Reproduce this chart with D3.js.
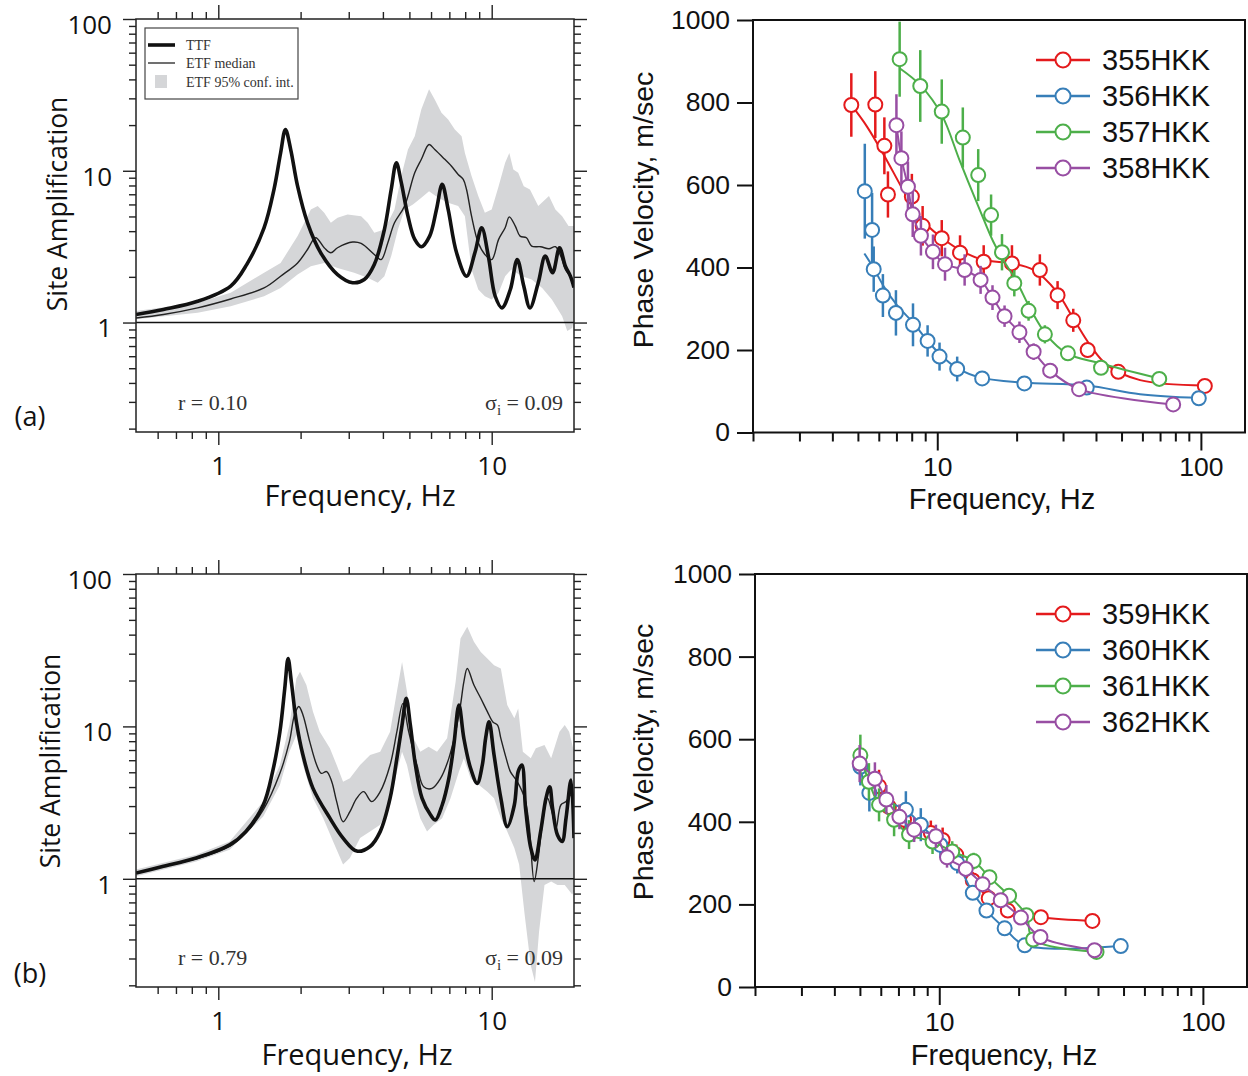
<!DOCTYPE html>
<html><head><meta charset="utf-8">
<script src="https://cdn.jsdelivr.net/npm/d3@7"></script>
<style>body{margin:0;background:#fff}</style>
</head><body><svg id="c" width="1248" height="1076"></svg>
<script>
// ---------- Panel (a): site amplification ----------
const ttfFreqA = [0.50,0.63,0.84,1.11,1.27,1.47,1.60,1.69,1.76,1.84,1.95,2.12,2.37,2.73,3.10,3.42,3.72,4.05,4.29,4.48,4.67,4.94,5.23,5.53,5.93,6.28,6.59,6.93,7.44,8.09,8.68,9.19,9.72,10.3,10.9,11.7,12.4,13.1,13.8,14.8,15.7,16.7,17.7,18.6,19.4,20.0];
const ttfAmpA  = [1.13,1.22,1.38,1.74,2.41,4.2,7.6,13.1,18.7,13.8,7.92,4.54,2.88,2.07,1.83,1.92,2.41,4.10,7.53,11.3,8.34,5.02,3.53,3.16,3.71,5.56,8.13,5.56,2.88,2.02,2.88,4.21,2.74,1.49,1.25,1.65,2.60,1.74,1.25,1.83,2.74,2.13,3.11,2.35,2.02,1.70];
const etfFreqA = [0.50,0.63,0.84,1.11,1.47,1.69,1.95,2.12,2.27,2.44,2.58,2.73,3.10,3.33,3.72,3.94,4.17,4.41,4.80,5.23,5.53,5.90,6.19,6.64,7.13,7.54,7.87,8.09,8.44,8.93,9.44,10.0,10.6,11.2,11.6,12.2,12.7,13.4,14.0,15.1,16.2,17.1,17.9,18.6,19.4,20.0];
const etfAmpA  = [1.07,1.13,1.25,1.43,1.69,2.02,2.47,3.03,3.62,3.11,2.88,3.11,3.39,3.32,2.81,2.60,3.36,4.54,5.85,9.70,11.9,14.9,13.8,12.2,10.7,9.46,8.77,7.53,5.02,3.35,2.81,2.60,3.53,4.21,4.97,4.32,3.71,3.62,3.19,3.16,3.06,3.16,2.74,2.24,2.02,1.83];
const bandUpFreqA = [0.50,0.84,1.11,1.47,1.69,1.95,2.18,2.31,2.44,2.58,2.73,2.97,3.33,3.52,3.72,4.05,4.41,4.67,4.94,5.23,5.53,5.90,6.19,6.55,6.93,7.33,7.76,7.98,8.44,8.93,9.44,10.0,10.6,11.2,11.6,12.0,12.5,13.1,13.8,14.8,16.2,17.1,18.1,19.1,20.0];
const bandUpAmpA  = [1.19,1.35,1.57,2.13,2.47,3.71,5.56,5.85,5.28,4.54,4.90,5.15,5.02,4.54,3.90,4.10,5.56,9.22,13.8,16.9,25.4,34.4,29.5,24.1,21.8,18.7,16.9,13.1,9.22,6.81,5.28,5.56,7.92,11.3,13.1,10.2,9.70,7.92,7.53,5.85,6.81,5.56,5.02,4.32,4.32];
const bandLoFreqA = [0.50,0.84,1.11,1.47,1.69,1.95,2.18,2.44,2.73,3.14,3.52,3.83,4.05,4.29,4.54,4.80,5.15,5.53,5.90,6.37,6.93,7.54,7.98,8.44,8.93,9.44,10.0,10.6,11.2,11.8,12.9,14.0,15.3,16.6,18.1,18.9,19.7,20.0];
const bandLoAmpA  = [1.05,1.16,1.28,1.49,1.69,2.07,2.35,2.47,2.29,2.13,1.97,1.83,2.02,2.74,4.10,5.56,6.00,6.64,7.34,6.64,6.15,5.85,5.02,2.24,1.65,1.49,1.42,1.57,2.02,2.24,2.02,1.92,1.69,1.42,1.10,0.88,0.92,1.05];

// ---------- Panel (b): site amplification ----------
const ttfFreqB = [0.50,0.62,0.83,1.10,1.26,1.46,1.58,1.68,1.75,1.80,1.85,1.93,2.04,2.22,2.56,2.86,3.21,3.59,3.91,4.25,4.50,4.70,4.87,5.04,5.26,5.56,5.97,6.22,6.59,6.97,7.27,7.59,7.91,8.37,8.85,9.24,9.50,9.78,10.2,10.8,11.4,12.1,12.5,12.9,13.3,13.9,14.4,15.1,15.8,16.3,16.7,17.4,18.1,18.7,19.5,20.0];
const ttfAmpB  = [1.09,1.20,1.37,1.67,2.04,3.05,5.05,9.23,17.7,27.9,19.6,10.7,6.49,3.92,2.50,1.85,1.52,1.63,2.04,3.38,6.17,10.2,15.3,10.2,5.58,3.38,2.63,2.43,3.05,4.56,7.55,13.8,8.35,5.31,4.23,5.58,8.35,10.7,6.49,3.38,2.20,3.05,5.05,5.58,2.90,1.59,1.33,2.04,3.38,4.02,2.90,1.94,1.76,2.50,4.45,1.85];
const etfFreqB = [0.50,0.62,0.83,1.10,1.26,1.46,1.68,1.82,1.90,1.97,2.04,2.16,2.29,2.38,2.49,2.60,2.71,2.86,3.03,3.21,3.40,3.64,3.91,4.25,4.50,4.73,4.97,5.33,5.64,6.05,6.50,6.97,7.38,7.69,7.91,8.14,8.61,9.12,9.64,10.1,10.5,10.8,11.3,11.7,12.4,13.2,13.7,14.3,14.8,15.3,16.0,16.6,17.2,17.9,18.7,19.4,20.0];
const etfAmpB  = [1.09,1.20,1.35,1.63,1.99,2.83,4.92,7.94,11.9,13.5,11.9,7.94,5.58,4.92,5.05,4.34,3.21,2.37,2.76,3.38,3.73,3.21,3.73,5.58,9.23,14.1,9.23,5.58,4.02,3.92,4.56,6.17,9.23,13.8,19.6,24.0,18.7,15.3,12.5,10.7,10.2,8.35,6.17,5.05,4.34,3.38,2.26,0.96,1.37,2.26,3.38,2.76,2.15,3.05,3.21,3.55,1.85];
const bandUpFreqB = [0.50,0.83,1.10,1.46,1.68,1.82,1.93,1.99,2.10,2.22,2.35,2.56,2.71,2.86,3.03,3.30,3.59,3.91,4.25,4.50,4.70,4.90,5.18,5.48,5.88,6.31,6.87,7.38,7.69,8.14,8.61,9.12,9.64,10.2,10.8,11.4,12.1,12.5,13.0,13.9,14.5,15.6,16.5,17.7,18.5,19.2,20.0];
const bandUpAmpB  = [1.15,1.44,1.76,3.21,5.58,10.2,20.6,22.8,18.7,12.5,9.23,7.18,5.58,4.34,4.56,5.58,6.49,6.82,9.23,16.9,26.5,16.9,8.35,6.82,7.36,6.82,8.35,19.6,37.7,45.0,35.9,30.8,27.9,25.2,24.0,13.8,11.3,13.1,6.82,6.17,7.18,7.55,6.17,9.23,10.2,9.23,6.82];
const bandLoFreqB = [0.50,0.83,1.10,1.46,1.68,1.82,1.93,2.04,2.22,2.42,2.63,2.86,3.03,3.30,3.59,3.91,4.25,4.50,4.70,4.90,5.18,5.48,5.80,6.14,6.59,7.07,7.59,7.91,8.37,8.98,9.64,10.2,10.8,11.4,12.1,12.6,13.2,13.9,14.4,14.9,15.6,16.5,17.4,18.5,19.7,20.0];
const bandLoAmpB  = [1.04,1.30,1.55,2.56,4.13,6.82,8.77,5.58,3.38,2.50,1.76,1.24,1.37,1.85,2.04,2.26,3.05,5.05,6.82,5.58,3.55,2.50,2.04,2.26,2.50,3.38,5.05,6.17,4.56,4.13,3.73,3.38,2.50,2.04,1.59,1.24,0.58,0.27,0.21,0.45,0.91,0.96,0.91,0.91,0.79,0.83];

// ---------- Phase velocity, top (355-358HKK) ----------
const f355 = [4.72,5.82,6.30,6.50,8.01,8.80,10.4,12.2,15.0,19.2,24.5,28.6,32.8,37.2,48.6,103.5];
const v355 = [794,795,695,577,572,501,471,436,414,410,394,333,272,200,147,113];
const e355 = [77,81,69,56,55,48,44,42,40,44,38,34,28,18,8,8];
const fit355F = [4.72,5.42,6.27,7.24,8.13,9.14,10.4,12.2,15.0,19.2,23.2,28.4,32.8,38.0,44.0,58.8,103.5];
const fit355V = [794,741,673,600,543,503,472,442,418,410,394,341,277,212,164,127,114];

const f356 = [5.31,5.66,5.74,6.22,6.97,8.09,9.19,10.2,11.9,14.8,21.4,36.9,98.2];
const v356 = [585,491,396,332,290,261,222,184,154,131,119,109,83];
const e356 = [115,90,55,52,55,52,38,34,30,18,18,14,5];
const fit356F = [5.29,5.74,6.27,7.03,8.13,9.14,10.3,11.9,14.6,21.2,36.9,58.8,97.7];
const fit356V = [434,398,354,309,265,224,188,156,133,121,114,93,84];

const f357 = [7.20,8.62,10.4,12.5,14.3,16.0,17.6,19.6,22.2,25.6,31.3,41.8,69.5];
const v357 = [905,840,778,715,624,527,437,362,295,238,192,157,130];
const e357 = [91,87,78,73,63,50,44,32,24,22,12,5,5];
const fit357F = [7.20,8.62,10.4,12.2,14.6,16.3,17.8,20.0,22.5,26.0,31.0,41.4,69.5];
const fit357V = [883,842,770,657,535,463,418,366,301,236,192,168,131];

const f358 = [7.00,7.31,7.74,8.07,8.67,9.63,10.7,12.7,14.6,16.2,18.0,20.5,23.2,26.8,34.5,78.5];
const v358 = [745,665,596,529,477,438,408,394,370,327,282,243,196,150,105,68];
const e358 = [75,65,61,55,48,42,40,38,34,30,26,26,20,18,14,5];

// ---------- Phase velocity, bottom (359-362HKK) ----------
const f359 = [5.91,6.44,7.35,9.29,10.3,11.6,13.4,15.4,18.2,24.3,38.1];
const v359 = [486,436,405,373,356,320,258,215,185,169,160];
const e359 = [40,35,35,30,30,25,20,15,10,5,5];
const f360 = [5.02,5.43,7.47,8.51,10.1,11.7,13.4,15.1,17.7,21.1,48.8];
const v360 = [533,470,429,393,344,300,228,185,142,101,99];
const e360 = [45,45,45,40,30,25,15,12,8,5,5];
const f361 = [5.02,5.41,5.91,6.74,7.68,9.43,11.2,13.5,15.5,18.4,21.4,22.7,39.5];
const v361 = [561,497,441,405,369,352,328,305,266,221,174,115,85];
const e361 = [50,45,40,40,35,30,25,20,15,12,8,5,5];
const f362 = [4.99,5.70,6.30,7.06,8.03,9.71,10.7,12.6,14.6,17.1,20.4,24.2,38.8];
const v362 = [541,504,454,412,381,365,314,286,249,210,168,121,89];
const e362 = [45,40,35,30,30,28,25,20,15,12,10,8,5];

const velTicks = [0,200,400,600,800,1000];
const legendTop = ["355HKK","356HKK","357HKK","358HKK"];
const legendBot = ["359HKK","360HKK","361HKK","362HKK"];
const ampLegend = ["TTF","ETF median","ETF 95% conf. int."];

// ---------- drawing ----------
const svg = d3.select('#c');
const FL = "'Open Sans', sans-serif";
const FR = "'Liberation Sans', Arial, sans-serif";
const FS = "'Liberation Serif', 'Times New Roman', serif";
const C = {red:'#e41a1c', blue:'#377eb8', green:'#4daf4a', purple:'#984ea3'};
const isPow10 = v => Math.abs(Math.log10(v) - Math.round(Math.log10(v))) < 1e-6;
const zip = (a,b) => a.map((v,i)=>[v,b[i]]);

function cleanAxis(g){ g.select('.domain').remove(); g.attr('color','#222'); g.selectAll('line').attr('stroke-width',1.4); }

function drawAmp(p){
  const {x0,x1,y0,y1} = p;
  const x = d3.scaleLog().domain([0.5,20]).range([x0,x1]);
  const y = d3.scaleLog().domain([p.ylo,100]).range([y1,y0]);
  const g = svg.append('g');
  svg.append('clipPath').attr('id','clip'+p.id).append('rect')
    .attr('x',x0).attr('y',y0).attr('width',x1-x0).attr('height',y1-y0);
  const pg = g.append('g').attr('clip-path',`url(#clip${p.id})`);
  const lin = d3.line().x(d=>x(d[0])).y(d=>y(d[1]));
  const band = zip(p.upF,p.upA).concat(zip(p.loF,p.loA).reverse());
  pg.append('path').attr('d', lin(band)+'Z').attr('fill','#d5d6d8');
  const cr = d3.line().x(d=>x(d[0])).y(d=>y(d[1])).curve(d3.curveCatmullRom.alpha(0.5));
  pg.append('path').attr('d', cr(zip(p.etfF,p.etfA))).attr('fill','none').attr('stroke','#222').attr('stroke-width',1.4);
  pg.append('path').attr('d', cr(zip(p.ttfF,p.ttfA))).attr('fill','none').attr('stroke','#111').attr('stroke-width',3.6).attr('stroke-linejoin','round');
  g.append('line').attr('x1',x0).attr('x2',x1).attr('y1',y(1)).attr('y2',y(1)).attr('stroke','#111').attr('stroke-width',1.6);
  g.append('rect').attr('x',x0).attr('y',y0).attr('width',x1-x0).attr('height',y1-y0)
    .attr('fill','none').attr('stroke','#222').attr('stroke-width',1.5);

  const yt = y.ticks(), yMaj = yt.filter(isPow10), yMin = yt.filter(v=>!isPow10(v));
  const xt = x.ticks().filter(v=>v>0.55 && v<19.9), xMaj = xt.filter(isPow10), xMin = xt.filter(v=>!isPow10(v));
  g.append('g').attr('transform',`translate(${x0},0)`).call(d3.axisLeft(y).tickValues(yMin).tickSize(7).tickFormat('')).call(cleanAxis);
  g.append('g').attr('transform',`translate(${x1},0)`).call(d3.axisRight(y).tickValues(yMin).tickSize(7).tickFormat('')).call(cleanAxis);
  g.append('g').attr('transform',`translate(${x1},0)`).call(d3.axisRight(y).tickValues(yMaj).tickSize(13).tickFormat('')).call(cleanAxis);
  const yl = g.append('g').attr('transform',`translate(${x0},0)`).call(d3.axisLeft(y).tickValues(yMaj).tickSize(13).tickPadding(11).tickFormat(d3.format('d'))).call(cleanAxis);
  yl.selectAll('text').attr('font-family',FL).attr('font-size',26).attr('fill','#111').attr('dy','0.55em');
  g.append('g').attr('transform',`translate(0,${y0})`).call(d3.axisTop(x).tickValues(xMin).tickSize(7).tickFormat('')).call(cleanAxis);
  g.append('g').attr('transform',`translate(0,${y0})`).call(d3.axisTop(x).tickValues(xMaj).tickSize(14).tickFormat('')).call(cleanAxis);
  g.append('g').attr('transform',`translate(0,${y1})`).call(d3.axisBottom(x).tickValues(xMin).tickSize(7).tickFormat('')).call(cleanAxis);
  const xl = g.append('g').attr('transform',`translate(0,${y1})`).call(d3.axisBottom(x).tickValues(xMaj).tickSize(13).tickPadding(12).tickFormat(d3.format('d'))).call(cleanAxis);
  xl.selectAll('text').attr('font-family',FL).attr('font-size',26).attr('fill','#111');

  g.append('text').attr('x',p.xlabX).attr('y',p.xlabY).attr('text-anchor','middle')
    .attr('font-family',FL).attr('font-size',29).attr('fill','#111').text('Frequency, Hz');
  g.append('text').attr('transform',`translate(${p.ylabX},${p.ylabC})rotate(-90)`).attr('text-anchor','middle')
    .attr('dominant-baseline','central').attr('font-family',FL).attr('font-size',26.5).attr('fill','#111').text('Site Amplification');
  g.append('text').attr('x',30).attr('y',p.tagY).attr('text-anchor','middle').attr('dominant-baseline','central')
    .attr('font-family',FL).attr('font-size',27).attr('fill','#111').text(p.tag);
  g.append('text').attr('x',x0+42).attr('y',y1-22).attr('font-family',FS).attr('font-size',22).attr('fill','#333').text(p.r);
  const s = g.append('text').attr('x',x1-11).attr('y',y1-22).attr('text-anchor','end').attr('font-family',FS).attr('font-size',22).attr('fill','#333');
  s.append('tspan').text('σ');
  s.append('tspan').attr('font-size',15).attr('dy',5).text('i');
  s.append('tspan').attr('dy',-5).text(' = 0.09');

  if(p.legend){
    const lg = g.append('g');
    lg.append('rect').attr('x',x0+9).attr('y',y0+9).attr('width',153).attr('height',71).attr('fill','#fff').attr('stroke','#444').attr('stroke-width',1.2);
    const rows = [y0+26, y0+44, y0+63];
    lg.append('line').attr('x1',x0+12).attr('x2',x0+39).attr('y1',rows[0]).attr('y2',rows[0]).attr('stroke','#111').attr('stroke-width',3.6);
    lg.append('line').attr('x1',x0+12).attr('x2',x0+39).attr('y1',rows[1]).attr('y2',rows[1]).attr('stroke','#222').attr('stroke-width',1.3);
    lg.append('rect').attr('x',x0+19).attr('y',rows[2]-7).attr('width',12).attr('height',13).attr('fill','#d5d6d8');
    ampLegend.forEach((t,i)=>lg.append('text').attr('x',x0+50).attr('y',rows[i]).attr('dominant-baseline','central')
      .attr('font-family',FS).attr('font-size',14).attr('fill','#333').text(t));
  }
}

function drawVel(p){
  const {x0,x1,y0,y1} = p;
  const x = d3.scaleLog().domain([2,147]).range([x0,x1]);
  const y = d3.scaleLinear().domain([0,1000]).range([y1,y0]);
  const g = svg.append('g');
  const xt = x.ticks(), xMaj = xt.filter(isPow10), xMin = xt.filter(v=>!isPow10(v));
  const ax = g2 => { g2.select('.domain').remove(); g2.attr('color','#111'); g2.selectAll('line').attr('stroke-width',2); };
  const yl = g.append('g').attr('transform',`translate(${x0},0)`).call(d3.axisLeft(y).tickValues(velTicks).tickSize(16).tickPadding(7).tickFormat(d3.format('d'))).call(ax);
  yl.selectAll('text').attr('font-family',FR).attr('font-size',26.5).attr('fill','#111');
  g.append('g').attr('transform',`translate(0,${y1})`).call(d3.axisBottom(x).tickValues(xMin).tickSize(9).tickFormat('')).call(ax);
  const xl = g.append('g').attr('transform',`translate(0,${y1})`).call(d3.axisBottom(x).tickValues(xMaj).tickSize(18).tickPadding(7).tickFormat(d3.format('d'))).call(ax);
  xl.selectAll('text').attr('font-family',FR).attr('font-size',26.5).attr('fill','#111');
  g.append('path').attr('d',`M${x0},${y0}H${x1}V${y1}H${x0}Z`).attr('fill','none').attr('stroke','#111').attr('stroke-width',2);

  const cr = d3.line().x(d=>x(d[0])).y(d=>y(d[1])).curve(d3.curveCatmullRom.alpha(0.5));
  p.series.forEach(s=>{
    const sg = g.append('g');
    s.F.forEach((f,i)=>sg.append('line').attr('x1',x(f)).attr('x2',x(f)).attr('y1',y(s.V[i]-s.E[i])).attr('y2',y(s.V[i]+s.E[i]))
      .attr('stroke',s.c).attr('stroke-width',2.5));
    sg.append('path').attr('d',cr(zip(s.fitF||s.F, s.fitV||s.V))).attr('fill','none').attr('stroke',s.c).attr('stroke-width',2);
    sg.selectAll('circle').data(zip(s.F,s.V)).join('circle').attr('cx',d=>x(d[0])).attr('cy',d=>y(d[1])).attr('r',7)
      .attr('fill','#fff').attr('stroke',s.c).attr('stroke-width',2);
  });
  p.series.forEach((s,i)=>{
    const ly = y0 + 40 + i*36;
    g.append('line').attr('x1',1036).attr('x2',1090).attr('y1',ly).attr('y2',ly).attr('stroke',s.c).attr('stroke-width',2.5);
    g.append('circle').attr('cx',1063).attr('cy',ly).attr('r',7.5).attr('fill','#fff').attr('stroke',s.c).attr('stroke-width',2);
    g.append('text').attr('x',1102).attr('y',ly).attr('dominant-baseline','central').attr('font-family',FR).attr('font-size',29).attr('fill','#111').text(p.names[i]);
  });
  g.append('text').attr('x',(x0+x1)/2+3).attr('y',p.xlabY).attr('text-anchor','middle').attr('font-family',FR).attr('font-size',29).attr('fill','#111').text('Frequency, Hz');
  g.append('text').attr('transform',`translate(643,${p.ylabC})rotate(-90)`).attr('text-anchor','middle').attr('dominant-baseline','central')
    .attr('font-family',FR).attr('font-size',28.5).attr('fill','#111').text('Phase Velocity, m/sec');
}

drawAmp({id:'a',x0:136,x1:574,y0:19,y1:432,ylo:0.19,xlabX:360,xlabY:506,ylabX:57,ylabC:204,tag:'(a)',tagY:415,r:'r = 0.10',legend:true,
  ttfF:ttfFreqA,ttfA:ttfAmpA,etfF:etfFreqA,etfA:etfAmpA,upF:bandUpFreqA,upA:bandUpAmpA,loF:bandLoFreqA,loA:bandLoAmpA});
drawAmp({id:'b',x0:136,x1:574,y0:574,y1:987,ylo:0.195,xlabX:357,xlabY:1065,ylabX:50,ylabC:761,tag:'(b)',tagY:972,r:'r = 0.79',legend:false,
  ttfF:ttfFreqB,ttfA:ttfAmpB,etfF:etfFreqB,etfA:etfAmpB,upF:bandUpFreqB,upA:bandUpAmpB,loF:bandLoFreqB,loA:bandLoAmpB});

drawVel({x0:753,x1:1245,y0:20,y1:432.5,xlabY:509,ylabC:210,names:legendTop,series:[
  {F:f355,V:v355,E:e355,fitF:fit355F,fitV:fit355V,c:C.red},
  {F:f356,V:v356,E:e356,fitF:fit356F,fitV:fit356V,c:C.blue},
  {F:f357,V:v357,E:e357,fitF:fit357F,fitV:fit357V,c:C.green},
  {F:f358,V:v358,E:e358,c:C.purple}]});
drawVel({x0:755,x1:1247,y0:574,y1:987,xlabY:1065,ylabC:762,names:legendBot,series:[
  {F:f359,V:v359,E:e359,c:C.red},
  {F:f360,V:v360,E:e360,c:C.blue},
  {F:f361,V:v361,E:e361,c:C.green},
  {F:f362,V:v362,E:e362,c:C.purple}]});
</script></body></html>
